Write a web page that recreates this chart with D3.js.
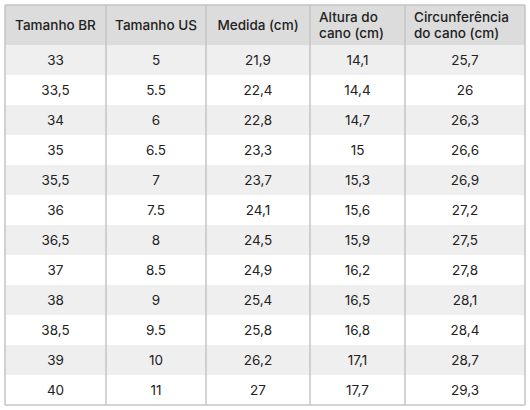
<!DOCTYPE html>
<html><head><meta charset="utf-8">
<script src="https://cdn.jsdelivr.net/npm/d3@7"></script>
<style>body{margin:0;background:#fff}</style>
</head><body>
<script>
const headers = [["Tamanho BR"], ["Tamanho US"], ["Medida (cm)"], ["Altura do", "cano (cm)"], ["Circunferência", "do cano (cm)"]];
const tamanhoBR = ["33", "33,5", "34", "35", "35,5", "36", "36,5", "37", "38", "38,5", "39", "40"];
const tamanhoUS = ["5", "5.5", "6", "6.5", "7", "7.5", "8", "8.5", "9", "9.5", "10", "11"];
const medida = ["21,9", "22,4", "22,8", "23,3", "23,7", "24,1", "24,5", "24,9", "25,4", "25,8", "26,2", "27"];
const altura = ["14,1", "14,4", "14,7", "15", "15,3", "15,6", "15,9", "16,2", "16,5", "16,8", "17,1", "17,7"];
const circunferencia = ["25,7", "26", "26,3", "26,6", "26,9", "27,2", "27,5", "27,8", "28,1", "28,4", "28,7", "29,3"];

const columns = [tamanhoBR, tamanhoUS, medida, altura, circunferencia];
const colEdges = [5, 106, 206, 310, 405, 525];
const tableTop = 5, headH = 40, tableBottom = 405;
const font = "Inter, 'Noto Sans', sans-serif";

const svg = d3.select("body").append("svg").attr("width", 530).attr("height", 410);

const y = d3.scaleBand().domain(d3.range(tamanhoBR.length)).range([tableTop + headH, tableBottom]);

svg.append("rect").attr("x", colEdges[0]).attr("y", tableTop).attr("width", colEdges[5] - colEdges[0])
  .attr("height", headH).attr("fill", "#dcdcdc");

svg.selectAll("rect.row").data(d3.range(tamanhoBR.length)).join("rect")
  .attr("class", "row").attr("x", colEdges[0]).attr("y", d => y(d))
  .attr("width", colEdges[5] - colEdges[0]).attr("height", y.bandwidth())
  .attr("fill", d => d % 2 === 0 ? "#efefef" : "#fff");

// header text
headers.forEach((h, c) => {
  const multi = h.length > 1;
  const hx = multi ? colEdges[c] + 9 : (colEdges[c] + colEdges[c + 1]) / 2;
  const t = svg.append("text").attr("font-family", font).attr("font-size", 13.5).attr("font-weight", 500)
    .attr("fill", "#222").attr("text-anchor", multi ? "start" : "middle");
  h.forEach((line, i) => t.append("tspan").attr("x", hx)
    .attr("y", tableTop + headH / 2 + 5 + (multi ? (i - 0.5) * 16 : 0)).text(line));
});

// cells
columns.forEach((col, c) => {
  svg.selectAll(null).data(col).join("text")
    .attr("font-family", font).attr("font-size", 13.5).attr("fill", "#222")
    .attr("text-anchor", "middle")
    .attr("x", (colEdges[c] + colEdges[c + 1]) / 2)
    .attr("y", (d, i) => y(i) + y.bandwidth() / 2 + 5)
    .text(d => d);
});

// grid lines
colEdges.forEach(x => svg.append("line").attr("x1", x).attr("x2", x).attr("y1", tableTop).attr("y2", tableBottom)
  .attr("stroke", "#c4c4c4").attr("stroke-width", 1.5));
[tableTop, tableBottom].forEach(v => svg.append("line").attr("x1", colEdges[0]).attr("x2", colEdges[5])
  .attr("y1", v).attr("y2", v).attr("stroke", "#c4c4c4").attr("stroke-width", 1.5));
</script>
</body></html>
